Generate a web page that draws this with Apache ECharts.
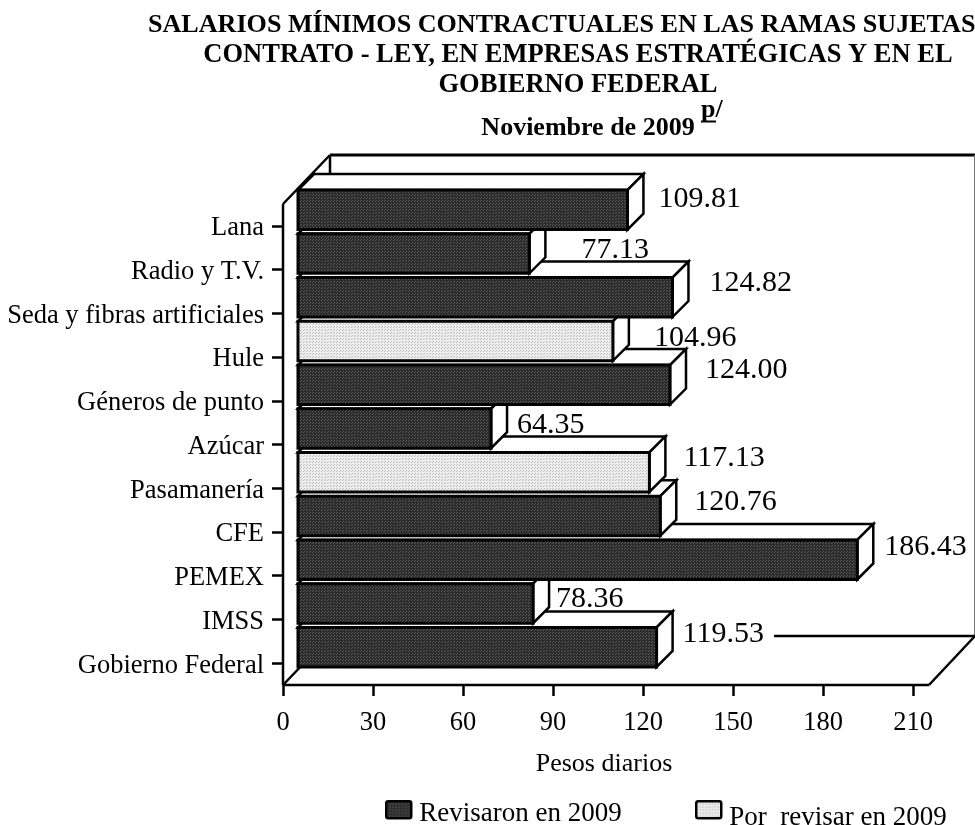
<!DOCTYPE html>
<html><head><meta charset="utf-8">
<style>html,body{margin:0;padding:0;background:#fff}#c{width:975px;height:825px}</style>
<script src="https://cdn.jsdelivr.net/npm/echarts@6/dist/echarts.min.js"></script>
</head><body><div id="c"></div>
<script>
const categories = ['Lana','Radio y T.V.','Seda y fibras artificiales','Hule','Géneros de punto','Azúcar','Pasamanería','CFE','PEMEX','IMSS','Gobierno Federal'];
const revisaron = [109.81,77.13,124.82,null,124.00,64.35,null,120.76,186.43,78.36,119.53];
const porRevisar = [null,null,null,104.96,null,null,117.13,null,null,null,null];
const xTicks = [0,30,60,90,120,150,180,210];
const seriesNames = ['Revisaron en 2009','Por  revisar en 2009'];
// manual label placement relative to the bar's rear end: [dx, y shift from the band tick]
const labelOffsets = [[15,-26.5],[36,-19.5],[21,-30],[25,-19],[19,-31],[10,-19.5],[18,-30.5],[18,-29.5],[11,-28.5],[7,-20.5],[0,-29.5]];

const FONT = '"Liberation Serif","Times New Roman",serif';
const LEFT = 283, TOP = 204, BOTTOM_Y = 685, WIDTH = 630;
const DX = 46, DY = 49, BAR_OFF = 15, BD = 16, BAR_H = 39.5, BAR_UP = 16, FLOOR_EXT = 16;

function pattern(bg, dot){
  const c = document.createElement('canvas'); c.width = 3; c.height = 3;
  const g = c.getContext('2d');
  g.fillStyle = bg; g.fillRect(0,0,3,3);
  g.fillStyle = dot; g.fillRect(0,0,1,1); g.fillRect(1,2,1,1);
  return {image:c, repeat:'repeat'};
}
const darkFill = pattern('#2b2b2b','#5a5a5a');
const lightFill = pattern('#eeeeee','#bdbdbd');
const line = {stroke:'#000', lineWidth:2.5};
const barLine = {stroke:'#000', lineWidth:3};

function barRender(fill){
  return function(params, api){
    const v = api.value(0), idx = api.value(1);
    if (v == null || isNaN(v)) return null;
    const p = api.coord([v, idx]);
    const x0 = api.coord([0, idx])[0] + BAR_OFF, x1 = p[0] + BAR_OFF;
    const yb = p[1] - BAR_UP + BAR_H/2, yt = yb - BAR_H;
    const z = 10 + (categories.length - idx) * 3;
    const off = labelOffsets[idx];
    const last = idx === categories.length-1;
    return {type:'group', children:[
      {type:'polygon', z2:z, shape:{points:[[x0,yt],[x0+BD,yt-BD],[x1+BD,yt-BD],[x1,yt]]}, style:Object.assign({fill:'#fff'},line)},
      {type:'polygon', z2:z, shape:{points:[[x1,yt],[x1+BD,yt-BD],[x1+BD,yb-BD],[x1,yb]]}, style:Object.assign({fill:'#fff'},line)},
      {type:'rect', z2:z+1, shape:{x:x0,y:yt,width:x1-x0,height:BAR_H}, style:Object.assign({fill:fill},barLine)},
      {type:'text', z2: last ? 5 : 200, x:x1+BD+off[0], y:p[1]+off[1], style:{
        text:v.toFixed(2), fill:'#000', font:'30px '+FONT, textAlign:'left', textVerticalAlign:'middle',
        backgroundColor: last ? '#fff' : 'transparent',
        padding: last ? [0,10,0,10] : 0
      }}
    ]};
  };
}
function frameRender(params, api){
  const c = params.coordSys;
  const x0 = c.x, yB = c.y + c.height, yT = c.y, x1 = c.x + c.width + FLOOR_EXT;
  const backR = x1 + DX;
  return {type:'group', silent:true, children:[
    {type:'line', z2:2, shape:{x1:x0+DX+1,y1:yT-DY,x2:backR,y2:yT-DY}, style:{stroke:'#000',lineWidth:3}},
    {type:'line', z2:2, shape:{x1:backR-0.5,y1:yT-DY,x2:backR-0.5,y2:yB-DY}, style:{stroke:'#777',lineWidth:1}},
    {type:'line', z2:2, shape:{x1:x0+DX+1,y1:yT-DY,x2:x0+DX+1,y2:yB-DY}, style:line},
    {type:'line', z2:2, shape:{x1:x0,y1:yT,x2:x0+DX+1,y2:yT-DY}, style:line},
    {type:'line', z2:2, shape:{x1:x0,y1:yT,x2:x0,y2:yB}, style:line},
    {type:'line', z2:2, shape:{x1:x0+DX+1,y1:yB-DY,x2:backR,y2:yB-DY}, style:line},
    {type:'line', z2:2, shape:{x1:x0,y1:yB,x2:x0+DX+1,y2:yB-DY}, style:line},
    {type:'line', z2:2, shape:{x1:x0,y1:yB,x2:x1,y2:yB}, style:line},
    {type:'line', z2:2, shape:{x1:x1,y1:yB,x2:backR,y2:yB-DY}, style:line}
  ]};
}
function titleLine(text, y, left, align, size){
  return {text, left, top:y, textAlign:align,
    textStyle:{fontFamily:FONT, fontWeight:'bold', fontSize:size, color:'#000', lineHeight:26}, padding:0};
}
// swatch path; the invisible trailing point stretches the icon box so the text sits lower than the swatch
const swatch = extra => 'path://M2 0H23Q25 0 25 2V15Q25 17 23 17H2Q0 17 0 15V2Q0 0 2 0Z M0 '+extra+'L0 '+extra;
const legendBase = {orient:'horizontal', itemWidth:25, selectedMode:false, padding:0, top:800,
  textStyle:{fontFamily:FONT,fontSize:27,lineHeight:27,color:'#000',padding:[0,0,0,3]}};

const chart = echarts.init(document.getElementById('c'), null, {renderer:'canvas'});
chart.setOption({
  animation:false,
  backgroundColor:'#fff',
  title:[
    titleLine('SALARIOS MÍNIMOS CONTRACTUALES EN LAS RAMAS SUJETAS', 12, 148, 'left', 26.1),
    titleLine('CONTRATO - LEY, EN EMPRESAS ESTRATÉGICAS Y EN EL', 42, 578, 'center', 26.5),
    titleLine('GOBIERNO FEDERAL', 72, 578, 'center', 26.5),
    titleLine('Noviembre de 2009', 115, 588, 'center', 26)
  ],
  legend:[
    Object.assign({},legendBase,{itemHeight:25,icon:swatch(25),data:[{name:seriesNames[0],itemStyle:{color:darkFill,borderColor:'#000',borderWidth:2.5}}],left:385}),
    Object.assign({},legendBase,{itemHeight:33,icon:swatch(33),data:[{name:seriesNames[1],itemStyle:{color:lightFill,borderColor:'#000',borderWidth:2.5}}],left:695})
  ],
  grid:{left:LEFT, top:TOP, width:WIDTH, height:BOTTOM_Y-TOP, containLabel:false},
  xAxis:{type:'value', min:0, max:210, interval:30, position:'bottom',
    name:'Pesos diarios', nameLocation:'middle', nameGap:66,
    nameTextStyle:{fontFamily:FONT,fontSize:26,color:'#000',padding:[0,0,0,12]},
    axisLine:{show:false}, splitLine:{show:false},
    axisTick:{show:true,length:11,lineStyle:{color:'#000',width:2.5}},
    axisLabel:{fontFamily:FONT,fontSize:26.5,color:'#000',margin:25,formatter:v=>xTicks.includes(v)?String(v):''}},
  yAxis:{type:'category', inverse:true, data:categories,
    axisLine:{show:false}, splitLine:{show:false},
    axisTick:{show:true,alignWithLabel:true,length:11,lineStyle:{color:'#000',width:2.5}},
    axisLabel:{fontFamily:FONT,fontSize:26.5,color:'#000',margin:19,interval:0,verticalAlign:'top',lineHeight:5}},
  graphic:[
    {type:'text', left:701, top:97, style:{text:'p/', font:'bold 26px '+FONT, fill:'#000'}},
    {type:'line', shape:{x1:701,y1:121.5,x2:716,y2:121.5}, style:{stroke:'#000',lineWidth:2}}
  ],
  series:[
    {type:'custom', name:'frame', coordinateSystem:'cartesian2d', clip:false, silent:true, z:1,
      data:[[0,0]], encode:{x:0,y:1}, renderItem:frameRender},
    {type:'custom', name:seriesNames[0], coordinateSystem:'cartesian2d', clip:false, z:2,
      itemStyle:{color:darkFill}, encode:{x:0,y:1},
      data:revisaron.map((v,i)=>[v,i]), renderItem:barRender(darkFill)},
    {type:'custom', name:seriesNames[1], coordinateSystem:'cartesian2d', clip:false, z:2,
      itemStyle:{color:lightFill}, encode:{x:0,y:1},
      data:porRevisar.map((v,i)=>[v,i]), renderItem:barRender(lightFill)}
  ]
});
</script></body></html>
